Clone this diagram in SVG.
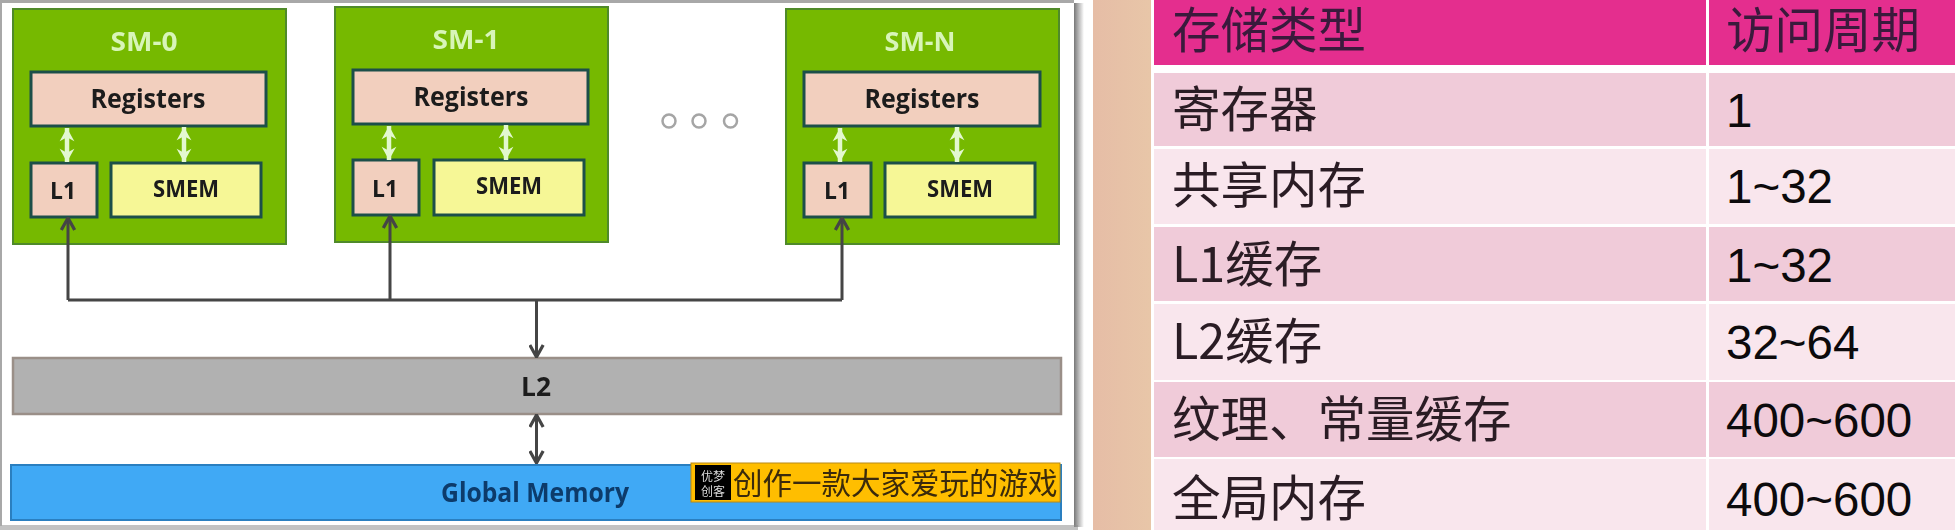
<svg xmlns="http://www.w3.org/2000/svg" width="1955" height="530" viewBox="0 0 1955 530">
<style>
.lat{font-family:"Open Sans","Liberation Sans",sans-serif;font-weight:700;text-anchor:middle}
.sm{fill:#76b900;stroke:#4f8a2a;stroke-width:2}
.reg{fill:#f2cfbe;stroke:#1d4f4a;stroke-width:3}
.mem{fill:#f6f796;stroke:#1d4f4a;stroke-width:3}
.t{fill:#d8f5b8;font-size:27px}
.k{fill:#1c1c1c;font-size:27px}
.s{fill:#1c1c1c;font-size:24px}
.cjk{font-family:"Noto Sans CJK SC",sans-serif;font-size:48.500px;fill:#2a1c24;font-weight:400}
.hd{fill:#3a1a3c}
.num{font-family:"Liberation Sans",sans-serif;font-size:47.500px;fill:#0c0a0c}
.dark{fill:none;stroke:#444;stroke-width:3}
.lite{fill:none;stroke:#e3f8cf;stroke-width:4.500}
.dot{fill:#fff;stroke:#a5a5a5;stroke-width:2.500}
</style>
<defs>
<marker id="open" viewBox="0 0 12 12" refX="11" refY="6" markerWidth="16" markerHeight="16" markerUnits="userSpaceOnUse" orient="auto-start-reverse"><path d="M2 1L11 6L2 11" fill="none" stroke="#444" stroke-width="2.400"/></marker>
<marker id="wh" viewBox="0 0 12 12" refX="11" refY="6" markerWidth="16" markerHeight="16" markerUnits="userSpaceOnUse" orient="auto-start-reverse"><path d="M1 .5L11 6L1 11.500L4 6Z" fill="#e3f8cf"/></marker>
<linearGradient id="tan" x1="0" x2="1" y1="0" y2="0"><stop offset="0" stop-color="#e6bda6"/><stop offset="1" stop-color="#e8c6a8"/></linearGradient>
<linearGradient id="shade" x1="0" x2="1" y1="0" y2="0"><stop offset="0" stop-color="#777"/><stop offset="1" stop-color="#fff"/></linearGradient>
<filter id="soft" x="-2%" y="-2%" width="104%" height="104%"><feGaussianBlur stdDeviation="0.700"/></filter>
</defs>
<rect width="1955" height="530" fill="#fff"/>
<rect x="1093" y="0" width="58" height="530" fill="url(#tan)"/>
<rect x="1074" y="3" width="10" height="524" fill="url(#shade)"/>
<rect x="0" y="525" width="1078" height="5" fill="#8f8f8f" opacity=".55"/>
<rect x="0" y="0" width="1074" height="3" fill="#a8a8a8"/>
<rect x="0" y="0" width="2" height="526" fill="#a8a8a8"/>
<g filter="url(#soft)">
<g id="sm-0">
<rect class="sm" x="13" y="9" width="273" height="235"/>
<text class="lat t" x="144" y="51" textLength="67" lengthAdjust="spacingAndGlyphs">SM-0</text>
<rect class="reg" x="31" y="72" width="235" height="54"/>
<text class="lat k" x="148" y="108" textLength="115" lengthAdjust="spacingAndGlyphs">Registers</text>
<rect class="reg" x="31" y="163" width="66" height="54"/>
<text class="lat s" x="63" y="199" textLength="26" lengthAdjust="spacingAndGlyphs">L1</text>
<rect class="mem" x="111" y="163" width="150" height="54"/>
<text class="lat s" x="186" y="197" textLength="66" lengthAdjust="spacingAndGlyphs">SMEM</text>
<path class="lite" marker-start="url(#wh)" marker-end="url(#wh)" d="M67 128V162"/>
<path class="lite" marker-start="url(#wh)" marker-end="url(#wh)" d="M184 127V162"/>
</g>
<g id="sm-1">
<rect class="sm" x="335" y="7" width="273" height="235"/>
<text class="lat t" x="466" y="49" textLength="67" lengthAdjust="spacingAndGlyphs">SM-1</text>
<rect class="reg" x="353" y="70" width="235" height="54"/>
<text class="lat k" x="471" y="106" textLength="115" lengthAdjust="spacingAndGlyphs">Registers</text>
<rect class="reg" x="353" y="160" width="66" height="55"/>
<text class="lat s" x="385" y="197" textLength="26" lengthAdjust="spacingAndGlyphs">L1</text>
<rect class="mem" x="434" y="160" width="150" height="55"/>
<text class="lat s" x="509" y="194" textLength="66" lengthAdjust="spacingAndGlyphs">SMEM</text>
<path class="lite" marker-start="url(#wh)" marker-end="url(#wh)" d="M389 126V160"/>
<path class="lite" marker-start="url(#wh)" marker-end="url(#wh)" d="M506 125V160"/>
</g>
<g id="sm-n">
<rect class="sm" x="786" y="9" width="273" height="235"/>
<text class="lat t" x="920" y="51" textLength="71" lengthAdjust="spacingAndGlyphs">SM-N</text>
<rect class="reg" x="804" y="72" width="236" height="54"/>
<text class="lat k" x="922" y="108" textLength="115" lengthAdjust="spacingAndGlyphs">Registers</text>
<rect class="reg" x="804" y="163" width="67" height="54"/>
<text class="lat s" x="837" y="199" textLength="26" lengthAdjust="spacingAndGlyphs">L1</text>
<rect class="mem" x="885" y="163" width="150" height="54"/>
<text class="lat s" x="960" y="197" textLength="66" lengthAdjust="spacingAndGlyphs">SMEM</text>
<path class="lite" marker-start="url(#wh)" marker-end="url(#wh)" d="M840 128V162"/>
<path class="lite" marker-start="url(#wh)" marker-end="url(#wh)" d="M957 127V162"/>
</g>
<g id="dots">
<circle class="dot" cx="669" cy="121" r="6.500"/>
<circle class="dot" cx="699" cy="121" r="6.500"/>
<circle class="dot" cx="730.500" cy="121" r="6.500"/>
</g>
<g id="l2">
<rect x="13" y="358" width="1048" height="56" fill="#b1b1b1" stroke="#9a8f88" stroke-width="2.500"/>
<text class="lat s" x="536" y="396" style="font-size:26px" textLength="30" lengthAdjust="spacingAndGlyphs">L2</text>
</g>
<g id="global-memory">
<rect x="11" y="465" width="1050" height="55" fill="#3fa9f5" stroke="#2a7fc0" stroke-width="2"/>
<text class="lat" x="535" y="502" font-size="26" fill="#0c3a6b" textLength="188" lengthAdjust="spacingAndGlyphs">Global Memory</text>
</g>
<g id="banner">
<rect x="691" y="463" width="369" height="39" fill="#ffbe00" stroke="#b88a10" stroke-width="1"/>
<rect x="695" y="465" width="36" height="35" fill="#000"/>
<text x="713" y="481" font-family="'Noto Sans CJK SC',sans-serif" font-size="12" fill="#ddd" text-anchor="middle">优梦</text>
<text x="713" y="496" font-family="'Noto Sans CJK SC',sans-serif" font-size="12" fill="#ddd" text-anchor="middle">创客</text>
<text x="733" y="494" font-family="'Noto Sans CJK SC',sans-serif" font-size="29.500" fill="#3a2a08">创作一款大家爱玩的游戏</text>
</g>
<g id="connectors">
<path class="dark" marker-end="url(#open)" d="M68 300V218"/>
<path class="dark" marker-end="url(#open)" d="M390 300V216"/>
<path class="dark" marker-end="url(#open)" d="M842 300V218"/>
<path class="dark" d="M68 300H842"/>
<path class="dark" marker-end="url(#open)" d="M536.500 300V357"/>
<path class="dark" marker-start="url(#open)" marker-end="url(#open)" d="M536.500 415V463"/>
</g>
</g>
<g id="table">
<g id="header">
<rect x="1154" y="0" width="552" height="65" fill="#e42e8e"/><rect x="1709" y="0" width="246" height="65" fill="#e42e8e"/>
<text class="cjk hd" x="1172" y="48">存储类型</text><text class="cjk hd" x="1726" y="48">访问周期</text>
</g>
<g id="row-1">
<rect x="1154" y="73" width="552" height="73" fill="#f0cbd9"/><rect x="1709" y="73" width="246" height="73" fill="#f0cbd9"/>
<text class="cjk" x="1172" y="127">寄存器</text><text class="num" x="1726" y="127">1</text>
</g>
<g id="row-2">
<rect x="1154" y="149" width="552" height="75" fill="#f9e6ed"/><rect x="1709" y="149" width="246" height="75" fill="#f9e6ed"/>
<text class="cjk" x="1172" y="203">共享内存</text><text class="num" x="1726" y="203">1~32</text>
</g>
<g id="row-3">
<rect x="1154" y="227" width="552" height="74" fill="#f0cbd9"/><rect x="1709" y="227" width="246" height="74" fill="#f0cbd9"/>
<text class="cjk" x="1172" y="282">L1缓存</text><text class="num" x="1726" y="282">1~32</text>
</g>
<g id="row-4">
<rect x="1154" y="304" width="552" height="76" fill="#f9e6ed"/><rect x="1709" y="304" width="246" height="76" fill="#f9e6ed"/>
<text class="cjk" x="1172" y="359">L2缓存</text><text class="num" x="1726" y="359">32~64</text>
</g>
<g id="row-5">
<rect x="1154" y="382" width="552" height="75" fill="#f0cbd9"/><rect x="1709" y="382" width="246" height="75" fill="#f0cbd9"/>
<text class="cjk" x="1172" y="437">纹理、常量缓存</text><text class="num" x="1726" y="437">400~600</text>
</g>
<g id="row-6">
<rect x="1154" y="459" width="552" height="71" fill="#f9e6ed"/><rect x="1709" y="459" width="246" height="71" fill="#f9e6ed"/>
<text class="cjk" x="1172" y="516">全局内存</text><text class="num" x="1726" y="516">400~600</text>
</g>
</g>
</svg>
